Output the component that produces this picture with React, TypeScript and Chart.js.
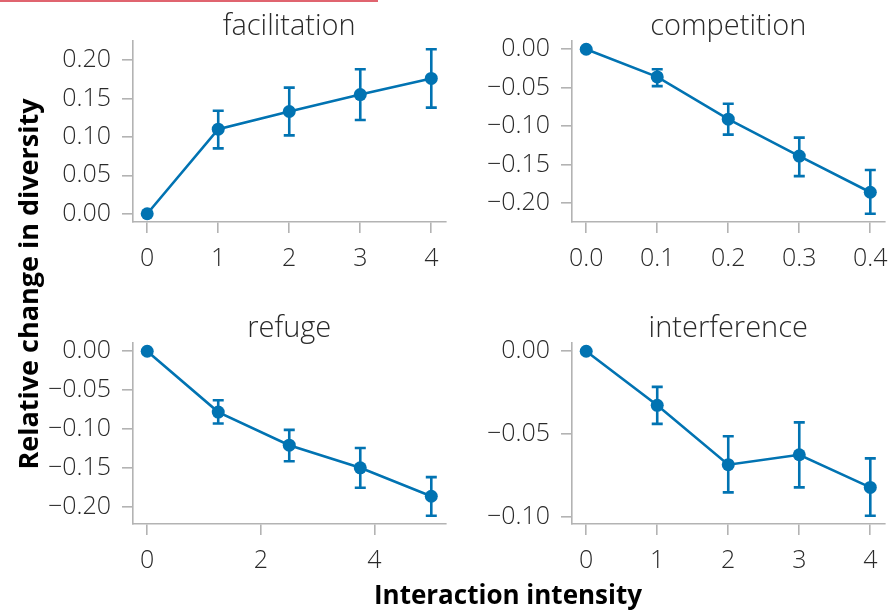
import React, { useEffect, useRef } from "react";
import { Chart, registerables } from "chart.js";

Chart.register(...registerables);

// ---------- data ----------
const facX = [0, 1, 2, 3, 4];
const facY = [0, 0.11, 0.133, 0.155, 0.176];
const facLo = [null, 0.085, 0.102, 0.122, 0.138];
const facHi = [null, 0.134, 0.164, 0.188, 0.214];
const facXTicks = [0, 1, 2, 3, 4];
const facYTicks = [0, 0.05, 0.1, 0.15, 0.2];

const compX = [0, 0.1, 0.2, 0.3, 0.4];
const compY = [0, -0.036, -0.091, -0.139, -0.186];
const compLo = [null, -0.048, -0.111, -0.165, -0.214];
const compHi = [null, -0.026, -0.071, -0.115, -0.157];
const compXTicks = [0, 0.1, 0.2, 0.3, 0.4];
const compYTicks = [-0.2, -0.15, -0.1, -0.05, 0];

const refX = [0, 1.25, 2.5, 3.75, 5];
const refY = [0, -0.078, -0.1205, -0.1495, -0.186];
const refLo = [null, -0.0927, -0.141, -0.175, -0.211];
const refHi = [null, -0.0628, -0.1008, -0.124, -0.1615];
const refXTicks = [0, 2, 4];
const refYTicks = [-0.2, -0.15, -0.1, -0.05, 0];

const intX = [0, 1, 2, 3, 4];
const intY = [0, -0.0326, -0.0684, -0.0624, -0.0821];
const intLo = [null, -0.0438, -0.0851, -0.0821, -0.0992];
const intHi = [null, -0.0215, -0.0513, -0.0429, -0.0646];
const intXTicks = [0, 1, 2, 3, 4];
const intYTicks = [-0.1, -0.05, 0];

// ---------- style ----------
const BLUE = "#0173B2";
const AXIS = "#b3b3b3";
const TEXT = "#2a2a2a";
const FONT = '"Open Sans", sans-serif';
const CW = 409;
const CH = 282;

function fmt(v: number, dec: number) {
  const s = Math.abs(v).toFixed(dec);
  return (v < -1e-12 ? "\u2212" : "") + s;
}

function range(vals: (number | null)[]) {
  const v = vals.filter((a) => a !== null) as number[];
  const mn = Math.min(...v);
  const mx = Math.max(...v);
  const m = (mx - mn) * 0.05;
  return [mn - m, mx + m];
}

type PanelProps = {
  title: string;
  xs: number[];
  ys: number[];
  lo: (number | null)[];
  hi: (number | null)[];
  xTicks: number[];
  yTicks: number[];
  xDec: number;
  yDec: number;
  left: number;
  top: number;
};

function Panel(p: PanelProps) {
  const ref = useRef<HTMLCanvasElement>(null);
  useEffect(() => {
    const [xMin, xMax] = range(p.xs);
    const [yMin, yMax] = range([...p.ys, ...p.lo, ...p.hi]);
    const errPlugin = {
      id: "errbars",
      beforeDatasetsDraw(chart: any) {
        const ctx = chart.ctx;
        const xS = chart.scales.x;
        const yS = chart.scales.y;
        ctx.save();
        ctx.strokeStyle = BLUE;
        ctx.lineWidth = 2.6;
        p.xs.forEach((x, i) => {
          const l = p.lo[i];
          const h = p.hi[i];
          if (l === null || h === null) return;
          const px = xS.getPixelForValue(x);
          const a = yS.getPixelForValue(l);
          const b = yS.getPixelForValue(h);
          ctx.beginPath();
          ctx.moveTo(px, a);
          ctx.lineTo(px, b);
          ctx.moveTo(px - 5.5, a);
          ctx.lineTo(px + 5.5, a);
          ctx.moveTo(px - 5.5, b);
          ctx.lineTo(px + 5.5, b);
          ctx.stroke();
        });
        ctx.restore();
      },
    };
    const tickFont = { family: FONT, size: 25, weight: "300" as any };
    const chart = new Chart(ref.current as HTMLCanvasElement, {
      type: "line",
      data: {
        datasets: [
          {
            data: p.xs.map((x, i) => ({ x, y: p.ys[i] })),
            borderColor: BLUE,
            backgroundColor: BLUE,
            borderWidth: 2.6,
            pointRadius: 6.5,
            pointBorderWidth: 0,
            pointBackgroundColor: BLUE,
            tension: 0,
          },
        ],
      },
      options: {
        animation: false,
        responsive: false,
        maintainAspectRatio: false,
        layout: { padding: { left: 0, right: 5, top: 0, bottom: 0 } },
        plugins: {
          legend: { display: false },
          tooltip: { enabled: false },
          title: {
            display: true,
            text: p.title,
            fullSize: false,
            color: TEXT,
            font: { family: FONT, size: 29, weight: "300" as any, lineHeight: 1.0 },
            padding: { top: 11.8, bottom: 0.2 },
          },
        },
        scales: {
          x: {
            type: "linear",
            min: xMin,
            max: xMax,
            afterBuildTicks: (a: any) => {
              a.ticks = p.xTicks.map((v) => ({ value: v }));
            },
            afterFit: (s: any) => {
              s.height = 60;
              s.paddingLeft = 0;
              s.paddingRight = 0;
            },
            grid: {
              drawOnChartArea: false,
              drawTicks: true,
              tickLength: 11,
              color: AXIS,
              lineWidth: 1.6,
            },
            border: { display: true, color: AXIS, width: 1.6 },
            ticks: {
              padding: 11,
              color: TEXT,
              font: tickFont,
              maxRotation: 0,
              autoSkip: false,
              callback: (v: any) => fmt(Number(v), p.xDec),
            },
          },
          y: {
            type: "linear",
            min: yMin,
            max: yMax,
            afterBuildTicks: (a: any) => {
              a.ticks = p.yTicks.map((v) => ({ value: v }));
            },
            afterFit: (s: any) => {
              s.width = 90;
              s.paddingTop = 0;
              s.paddingBottom = 0;
            },
            grid: {
              drawOnChartArea: false,
              drawTicks: true,
              tickLength: 11,
              color: AXIS,
              lineWidth: 1.6,
            },
            border: { display: true, color: AXIS, width: 1.6 },
            ticks: {
              padding: 11,
              color: TEXT,
              font: tickFont,
              autoSkip: false,
              callback: (v: any) => fmt(Number(v), p.yDec),
            },
          },
        },
      },
      plugins: [errPlugin],
    });
    return () => chart.destroy();
  }, []);
  return (
    <canvas
      ref={ref}
      width={CW}
      height={CH}
      style={{ position: "absolute", left: p.left, top: p.top, width: CW, height: CH }}
    />
  );
}

export default function App() {
  return (
    <div
      style={{
        position: "absolute",
        left: 0,
        top: 0,
        width: 890,
        height: 610,
        background: "#fff",
        overflow: "hidden",
      }}
    >
      <div style={{ position: "absolute", left: 0, top: 0, width: 378, height: 2, background: "#e0646f" }} />
      <Panel title="facilitation" xs={facX} ys={facY} lo={facLo} hi={facHi} xTicks={facXTicks} yTicks={facYTicks} xDec={0} yDec={2} left={43} top={0} />
      <Panel title="competition" xs={compX} ys={compY} lo={compLo} hi={compHi} xTicks={compXTicks} yTicks={compYTicks} xDec={1} yDec={2} left={482} top={0} />
      <Panel title="refuge" xs={refX} ys={refY} lo={refLo} hi={refHi} xTicks={refXTicks} yTicks={refYTicks} xDec={0} yDec={2} left={43} top={302} />
      <Panel title="interference" xs={intX} ys={intY} lo={intLo} hi={intHi} xTicks={intXTicks} yTicks={intYTicks} xDec={0} yDec={2} left={482} top={302} />
      <div
        style={{
          position: "absolute",
          left: 208,
          top: 578,
          width: 600,
          textAlign: "center",
          fontFamily: FONT,
          fontWeight: 700,
          fontSize: 26,
          lineHeight: "32px",
          color: "#000",
        }}
      >
        Interaction intensity
      </div>
      <div
        style={{
          position: "absolute",
          left: 28 - 220,
          top: 284 - 16,
          width: 440,
          height: 32,
          textAlign: "center",
          fontFamily: FONT,
          fontWeight: 700,
          fontSize: 27,
          lineHeight: "32px",
          color: "#000",
          transform: "rotate(-90deg)",
          transformOrigin: "center center",
        }}
      >
        Relative change in diversity
      </div>
    </div>
  );
}
